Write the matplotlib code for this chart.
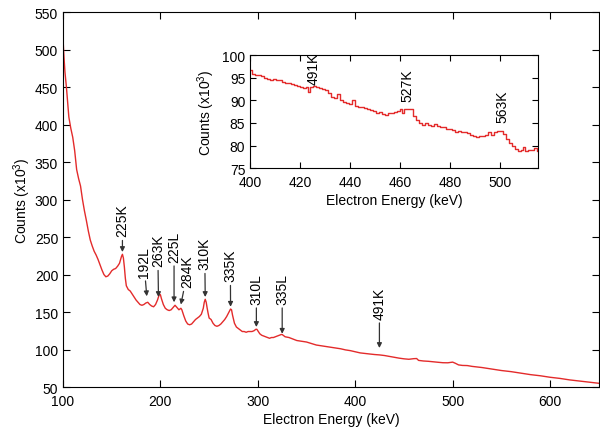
import matplotlib
matplotlib.use('Agg')
import matplotlib.pyplot as plt

plt.rcParams['font.family'] = ['Liberation Sans', 'DejaVu Sans']
plt.rcParams['mathtext.default'] = 'regular'
plt.rcParams['font.size'] = 10

# main spectrum (keV, counts x10^3)
energy = [100, 101, 102, 103.5, 105, 106, 108, 110, 112, 114, 116, 118, 120, 122, 124,
          126, 128, 130, 132, 134, 136, 138, 140, 142, 144, 146, 148, 150, 152, 154,
          156, 158, 160, 161, 162, 163, 164, 165, 167, 169, 171, 173, 175, 177, 179,
          181, 183, 185, 187, 189, 191, 193, 195, 197, 199, 200, 201, 203, 205, 207,
          209, 211, 213, 215, 217, 219, 221, 222, 224, 226, 228, 230, 232, 234, 236,
          238, 240, 242, 244, 245, 246, 247, 248, 249, 250, 252, 254, 256, 258, 260,
          262, 264, 266, 268, 270, 272, 273, 274, 276, 278, 280, 282, 284, 286, 288,
          290, 292, 294, 296, 298, 299, 300, 302, 304, 306, 308, 310, 312, 314, 316,
          318, 320, 322, 324, 325, 326, 328, 332, 336, 340, 345, 350, 355, 360, 365,
          370, 375, 380, 385, 390, 395, 400, 405, 410, 415, 420, 425, 430, 435, 440,
          445, 450, 455, 460, 463, 465, 470, 475, 480, 485, 490, 495, 500, 503, 506,
          510, 515, 520, 530, 540, 550, 560, 570, 580, 590, 600, 610, 620, 630, 640, 650]
counts = [515, 490, 470, 450, 425, 410, 395, 383, 365, 340, 328, 318, 300, 285, 272,
          258, 246, 238, 231, 226, 220, 213, 206, 200, 197, 198, 201, 205, 207, 208,
          211, 215, 224, 227, 222, 210, 195, 185, 180, 178, 174, 170, 166, 163, 160,
          159, 160, 162, 163, 160, 158, 157, 160, 166, 174, 173, 168, 160, 155, 153,
          152, 153, 156, 159, 156, 153, 155, 153, 145, 138, 134, 133, 134, 137, 140,
          142, 144, 147, 155, 163, 167, 163, 155, 148, 142, 140, 135, 132, 131, 132,
          134, 137, 140, 144, 149, 154, 153, 146, 135, 130, 128, 126, 124, 124, 123,
          124, 124, 124, 125, 127, 127, 125, 121, 119, 118, 117, 116, 115, 116, 116,
          117, 118, 119, 120, 120, 119, 117, 116, 114, 112, 111, 110, 108, 106, 105,
          104, 103, 102, 101, 99.5, 98.5, 97, 95.5, 94.7, 94, 93.3, 92.8, 92, 90.8, 89.6,
          88.5, 87.6, 87, 87.8, 88, 85.5, 84.7, 84.3, 83.6, 83, 82.4, 82.3, 83.2, 81.5, 79.5,
          78.8, 78.6, 77.5, 76, 74, 72, 70.5, 68.5, 66.5, 65, 63, 61.5, 59.5, 58, 56.5, 55]

# zoomed region (inset)
inset_e = [400.0, 401.2, 402.4, 403.6, 404.8, 406.0, 407.2, 408.4, 409.6, 410.8, 412.0,
           413.2, 414.4, 415.6, 416.8, 418.0, 419.2, 420.4, 421.6, 422.8, 423.6, 424.4,
           425.6, 426.8, 428.0, 429.2, 430.4, 431.6, 432.8, 434.0, 435.2, 436.4, 437.6,
           438.8, 440.0, 441.2, 442.4, 443.6, 444.8, 446.0, 447.2, 448.4, 449.6, 450.8,
           452.0, 453.2, 454.4, 455.6, 456.8, 458.0, 459.2, 460.4, 461.2, 462.0, 463.2,
           464.4, 465.6, 466.8, 468.0, 469.2, 470.4, 471.6, 472.8, 474.0, 475.2, 476.4,
           477.6, 478.8, 480.0, 481.2, 482.4, 483.6, 484.8, 486.0, 487.2, 488.4, 489.6,
           490.8, 492.0, 493.2, 494.4, 495.6, 496.8, 498.0, 499.2, 500.4, 501.6, 502.8,
           504.0, 505.2, 506.4, 507.6, 508.8, 509.4, 510.6, 511.8, 513.0, 514.2, 515.2]
inset_c = [96.6, 95.8, 95.5, 95.6, 95.3, 95.0, 94.8, 94.5, 94.7, 94.6, 94.4,
           94.1, 93.9, 93.8, 93.6, 93.3, 93.1, 92.9, 92.7, 92.9, 91.9, 93.0,
           93.1, 93.0, 92.8, 92.5, 92.2, 91.6, 90.8, 90.6, 91.4, 90.0, 89.6,
           89.4, 89.3, 90.0, 88.7, 88.5, 88.6, 88.2, 88.0, 87.8, 87.6, 87.3,
           87.4, 87.0, 86.8, 87.1, 87.3, 87.5, 87.6, 88.0, 87.2, 88.1, 88.1,
           88.0, 86.5, 85.6, 84.9, 84.6, 85.1, 84.5, 84.3, 84.7, 84.3, 84.0,
           84.1, 83.6, 83.7, 83.4, 83.1, 83.2, 83.0, 82.9, 82.7, 82.4, 82.1,
           82.0, 82.1, 82.1, 82.3, 83.0, 82.4, 82.9, 83.3, 83.2, 82.5, 81.5,
           80.6, 79.8, 79.3, 78.9, 79.0, 79.6, 78.9, 79.0, 79.0, 79.4, 78.7]

# peak labels: text, text anchor (x, y), arrow tip (x, y)
peak_labels = ['225K', '192L', '263K', '225L', '284K', '310K', '335K', '310L', '335L', '491K']
peak_text = [(161, 251), (183, 197), (197.3, 211), (214, 217), (228, 183),
             (245.5, 207), (271.8, 191), (298.5, 161), (325, 161), (424.8, 141)]
peak_tip = [(161, 230), (186, 171), (198, 170), (214, 163), (221, 160),
            (246, 170), (272, 157), (298.5, 130), (325, 121), (424.8, 102)]

inset_labels = ['491K', '527K', '563K']
inset_text = [(425.2, 93.6), (462.8, 89.8), (500.8, 85.2)]

red = '#e32b2b'

fig = plt.figure(figsize=(6, 4.35), dpi=100)
ax = fig.add_axes([0.105, 0.108, 0.893, 0.862])
ax.plot(energy, counts, color=red, lw=1)
ax.set_xlim(100, 650)
ax.set_ylim(50, 550)
ax.set_xticks(range(100, 601, 100))
ax.set_yticks(range(50, 551, 50))
ax.tick_params(direction='in', top=True, right=True, length=5, labelsize=10)
ax.tick_params(axis='x', pad=5)
ax.set_xlabel('Electron Energy (keV)', fontsize=10, labelpad=3)
ax.set_ylabel('Counts (x10$^3$)', fontsize=10, labelpad=1)
for lab, (tx, ty), (px, py) in zip(peak_labels, peak_text, peak_tip):
    ax.annotate(lab, xy=(px, py), xytext=(tx, ty), rotation=90,
                ha='center', va='bottom', fontsize=10,
                arrowprops=dict(arrowstyle='-|>', color='#333333', lw=0.9,
                                mutation_scale=7, shrinkA=1, shrinkB=0))

ins = fig.add_axes([0.417, 0.611, 0.48, 0.26])
ins.plot(inset_e, inset_c, color=red, lw=1, drawstyle='steps-mid')
ins.set_xlim(400, 515.2)
ins.set_ylim(75, 100)
ins.set_xticks(range(400, 501, 20))
ins.set_yticks(range(75, 101, 5))
ins.tick_params(direction='in', top=True, right=True, length=4, labelsize=10)
ins.tick_params(axis='x', pad=5)
ins.set_xlabel('Electron Energy (keV)', fontsize=10, labelpad=3)
ins.set_ylabel('Counts (x10$^3$)', fontsize=10, labelpad=4)
for lab, (tx, ty) in zip(inset_labels, inset_text):
    ins.text(tx, ty, lab, rotation=90, ha='center', va='bottom', fontsize=10)

fig.savefig('out.png', dpi=100)
